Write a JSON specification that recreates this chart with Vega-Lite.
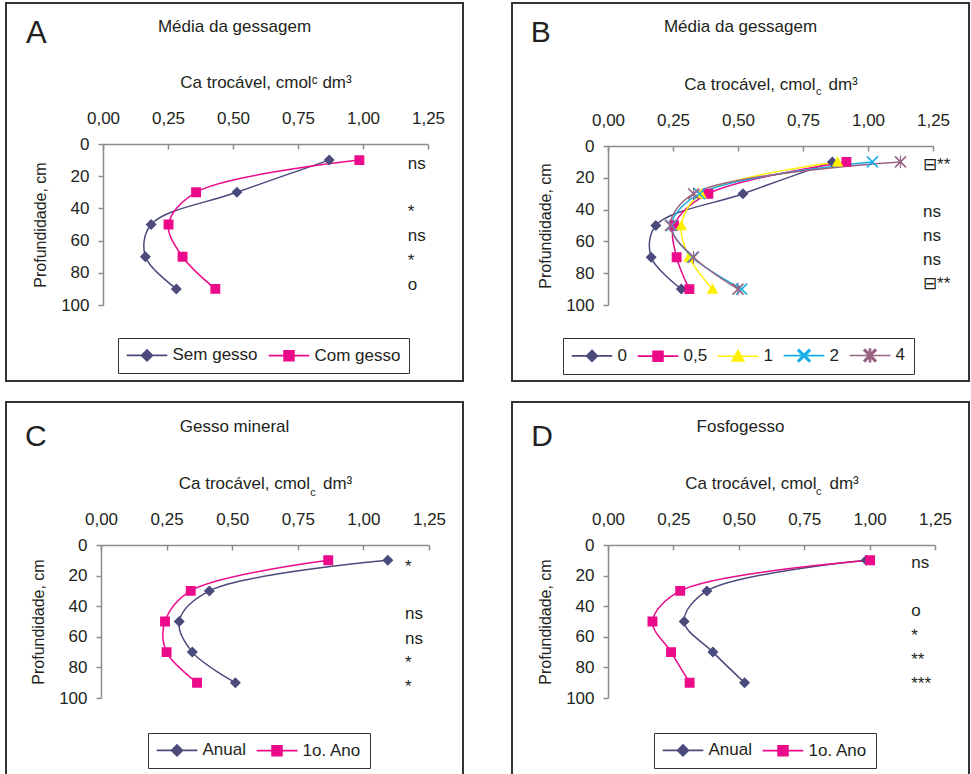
{
  "$schema": "https://vega.github.io/schema/vega-lite/v6.json",
  "padding": {"left": 5, "top": 2, "right": 0, "bottom": 0},
  "autosize": {"type": "pad"},
  "background": "white",
  "config": {
    "font": "Liberation Sans",
    "view": {"stroke": "#333333", "strokeWidth": 2},
    "axis": {"grid": false, "domainColor": "#8c8c8c", "domainWidth": 1.5, "tickColor": "#8c8c8c", "tickWidth": 1.5, "labelFont": "Liberation Sans", "labelFontSize": 17, "labelColor": "#231f20", "titleFont": "Liberation Sans", "titleFontSize": 17, "titleFontWeight": "normal", "titleColor": "#231f20", "labelFlush": false, "labelOverlap": false},
    "legend": {"orient": "none", "direction": "horizontal", "strokeColor": "#333333", "padding": 8.5, "labelFont": "Liberation Sans", "labelFontSize": 17, "labelColor": "#231f20", "symbolSize": 121, "symbolOffset": 12, "labelOffset": 17, "columnPadding": 6, "symbolStrokeWidth": 1.6},
    "title": {"font": "Liberation Sans", "fontSize": 17, "fontWeight": "normal", "color": "#231f20", "anchor": "middle", "frame": "group", "baseline": "alphabetic"}
  },
  "datasets": {
    "dadosA": [
      {"serie": "Sem gesso", "prof": 10, "ca": 0.87}, {"serie": "Sem gesso", "prof": 30, "ca": 0.515}, {"serie": "Sem gesso", "prof": 50, "ca": 0.185}, {"serie": "Sem gesso", "prof": 70, "ca": 0.163}, {"serie": "Sem gesso", "prof": 90, "ca": 0.282},
      {"serie": "Com gesso", "prof": 10, "ca": 0.986}, {"serie": "Com gesso", "prof": 30, "ca": 0.358}, {"serie": "Com gesso", "prof": 50, "ca": 0.252}, {"serie": "Com gesso", "prof": 70, "ca": 0.306}, {"serie": "Com gesso", "prof": 90, "ca": 0.432}
    ],
    "dadosB": [
      {"serie": "0", "prof": 10, "ca": 0.863}, {"serie": "0", "prof": 30, "ca": 0.519}, {"serie": "0", "prof": 50, "ca": 0.184}, {"serie": "0", "prof": 70, "ca": 0.166}, {"serie": "0", "prof": 90, "ca": 0.282},
      {"serie": "0,5", "prof": 10, "ca": 0.917}, {"serie": "0,5", "prof": 30, "ca": 0.386}, {"serie": "0,5", "prof": 50, "ca": 0.254}, {"serie": "0,5", "prof": 70, "ca": 0.264}, {"serie": "0,5", "prof": 90, "ca": 0.313},
      {"serie": "1", "prof": 10, "ca": 0.883}, {"serie": "1", "prof": 30, "ca": 0.358}, {"serie": "1", "prof": 50, "ca": 0.282}, {"serie": "1", "prof": 70, "ca": 0.312}, {"serie": "1", "prof": 90, "ca": 0.402},
      {"serie": "2", "prof": 10, "ca": 1.017}, {"serie": "2", "prof": 30, "ca": 0.352}, {"serie": "2", "prof": 50, "ca": 0.244}, {"serie": "2", "prof": 70, "ca": 0.326}, {"serie": "2", "prof": 90, "ca": 0.514},
      {"serie": "4", "prof": 10, "ca": 1.125}, {"serie": "4", "prof": 30, "ca": 0.329}, {"serie": "4", "prof": 50, "ca": 0.24}, {"serie": "4", "prof": 70, "ca": 0.329}, {"serie": "4", "prof": 90, "ca": 0.5}
    ],
    "dadosC": [
      {"serie": "Anual", "prof": 10, "ca": 1.093}, {"serie": "Anual", "prof": 30, "ca": 0.413}, {"serie": "Anual", "prof": 50, "ca": 0.298}, {"serie": "Anual", "prof": 70, "ca": 0.348}, {"serie": "Anual", "prof": 90, "ca": 0.512},
      {"serie": "1o. Ano", "prof": 10, "ca": 0.866}, {"serie": "1o. Ano", "prof": 30, "ca": 0.342}, {"serie": "1o. Ano", "prof": 50, "ca": 0.244}, {"serie": "1o. Ano", "prof": 70, "ca": 0.25}, {"serie": "1o. Ano", "prof": 90, "ca": 0.366}
    ],
    "dadosD": [
      {"serie": "Anual", "prof": 10, "ca": 0.987}, {"serie": "Anual", "prof": 30, "ca": 0.378}, {"serie": "Anual", "prof": 50, "ca": 0.291}, {"serie": "Anual", "prof": 70, "ca": 0.401}, {"serie": "Anual", "prof": 90, "ca": 0.522},
      {"serie": "1o. Ano", "prof": 10, "ca": 1.002}, {"serie": "1o. Ano", "prof": 30, "ca": 0.276}, {"serie": "1o. Ano", "prof": 50, "ca": 0.17}, {"serie": "1o. Ano", "prof": 70, "ca": 0.241}, {"serie": "1o. Ano", "prof": 90, "ca": 0.312}
    ],
    "notasA": [{"texto": "ns", "prof": 15.7}, {"texto": "*", "prof": 45.6}, {"texto": "ns", "prof": 60.2}, {"texto": "*", "prof": 75.6}, {"texto": "o", "prof": 90.9}],
    "notasB": [{"texto": "⊟**", "prof": 15.3}, {"texto": "ns", "prof": 44.7}, {"texto": "ns", "prof": 59.7}, {"texto": "ns", "prof": 75}, {"texto": "⊟**", "prof": 90.1}],
    "notasC": [{"texto": "*", "prof": 17.5}, {"texto": "ns", "prof": 48.3}, {"texto": "ns", "prof": 64.6}, {"texto": "*", "prof": 80.6}, {"texto": "*", "prof": 95.8}],
    "notasD": [{"texto": "ns", "prof": 15}, {"texto": "o", "prof": 46.1}, {"texto": "*", "prof": 62.8}, {"texto": "**", "prof": 78.4}, {"texto": "***", "prof": 94.3}]
  },
  "columns": 2,
  "spacing": {"row": 19, "column": 47},
  "resolve": {"scale": {"color": "independent", "stroke": "independent", "shape": "independent"}},
  "concat": [
    {
      "width": 457, "height": 378,
      "title": {"text": "Média da gessagem", "offset": -33},
      "layer": [
        {"data": {"name": "dadosA"}, "mark": {"type": "line", "interpolate": "catmull-rom", "strokeWidth": 1.5},
         "encoding": {
           "x": {"field": "ca", "type": "quantitative", "scale": {"domain": [0, 1.25], "range": [97, 422], "nice": false, "zero": false},
                 "axis": {"orient": "top", "offset": -141, "values": [0, 0.25, 0.5, 0.75, 1, 1.25], "labelExpr": "replace(format(datum.value, '.2f'), '.', ',')", "tickSize": -5, "labelPadding": 26, "labelBaseline": "alphabetic", "title": "Ca trocável, cmolᶜ dm³", "titlePadding": 18}},
           "y": {"field": "prof", "type": "quantitative", "scale": {"domain": [0, 100], "range": [141, 302], "nice": false, "zero": false},
                 "axis": {"orient": "left", "offset": -97, "values": [0, 20, 40, 60, 80, 100], "tickSize": 5, "labelPadding": 9, "title": "Profundidade, cm", "titleFontSize": 16, "titlePadding": 12}},
           "color": {"field": "serie", "type": "nominal", "scale": {"domain": ["Sem gesso", "Com gesso"], "range": ["#4a4a7d", "#eb0a8a"]}},
           "order": {"field": "prof", "type": "quantitative"}
         }},
        {"data": {"name": "dadosA"}, "mark": {"type": "point", "filled": true, "size": 121, "opacity": 1, "strokeWidth": 0},
         "encoding": {
           "x": {"field": "ca", "type": "quantitative"},
           "y": {"field": "prof", "type": "quantitative"},
           "color": {"field": "serie", "type": "nominal", "legend": {"title": null, "legendX": 112, "legendY": 335, "columns": 2, "encode": {"symbols": {"update": {"strokeWidth": {"value": 1.6}, "strokeOpacity": {"value": 1}}}}}},
           "stroke": {"field": "serie", "type": "nominal", "scale": {"domain": ["Sem gesso", "Com gesso"], "range": ["#4a4a7d", "#eb0a8a"]}, "legend": {"title": null}},
           "shape": {"field": "serie", "type": "nominal", "scale": {"domain": ["Sem gesso", "Com gesso"], "range": ["M-3.7,0H3.7M0,-1L1,0L0,1L-1,0Z", "M-3.7,0H3.7M-0.9,-0.9H0.9V0.9H-0.9Z"]}, "legend": {"title": null}}
         }},
        {"data": {"name": "notasA"}, "mark": {"type": "text", "align": "left", "baseline": "alphabetic", "fontSize": 17, "color": "#231f20"},
         "encoding": {"x": {"datum": 1.172}, "y": {"field": "prof", "type": "quantitative"}, "text": {"field": "texto"}}},
        {"data": {"values": [{"rotulo": "A"}]}, "mark": {"type": "text", "align": "left", "baseline": "alphabetic", "fontSize": 31, "color": "#231f20"},
         "encoding": {"x": {"datum": -0.296}, "y": {"datum": -63}, "text": {"field": "rotulo"}}}
      ]
    },
    {
      "width": 457, "height": 378,
      "title": {"text": "Média da gessagem", "offset": -33},
      "layer": [
        {"data": {"name": "dadosB"}, "mark": {"type": "line", "interpolate": "catmull-rom", "strokeWidth": 1.5},
         "encoding": {
           "x": {"field": "ca", "type": "quantitative", "scale": {"domain": [0, 1.25], "range": [96, 421], "nice": false, "zero": false},
                 "axis": {"orient": "top", "offset": -143, "values": [0, 0.25, 0.5, 0.75, 1, 1.25], "labelExpr": "replace(format(datum.value, '.2f'), '.', ',')", "tickSize": -5, "labelPadding": 26, "labelBaseline": "alphabetic", "title": "Ca trocável, cmol\u00a0\u2009\u00a0dm³", "titlePadding": 18}},
           "y": {"field": "prof", "type": "quantitative", "scale": {"domain": [0, 100], "range": [143, 302], "nice": false, "zero": false},
                 "axis": {"orient": "left", "offset": -96, "values": [0, 20, 40, 60, 80, 100], "tickSize": 5, "labelPadding": 9, "title": "Profundidade, cm", "titleFontSize": 16, "titlePadding": 12}},
           "color": {"field": "serie", "type": "nominal", "scale": {"domain": ["0", "0,5", "1", "2", "4"], "range": ["#4a4a7d", "#eb0a8a", "#fff000", "#1aaee8", "#9a6384"]}},
           "order": {"field": "prof", "type": "quantitative"}
         }},
        {"data": {"name": "dadosB"}, "mark": {"type": "point", "filled": true, "size": 121, "opacity": 1, "strokeWidth": 0},
         "encoding": {
           "x": {"field": "ca", "type": "quantitative"},
           "y": {"field": "prof", "type": "quantitative"},
           "color": {"field": "serie", "type": "nominal", "legend": {"title": null, "legendX": 51, "legendY": 335, "columns": 5, "encode": {"symbols": {"update": {"strokeWidth": {"value": 1.6}, "strokeOpacity": {"value": 1}}}}}},
           "stroke": {"field": "serie", "type": "nominal", "scale": {"domain": ["0", "0,5", "1", "2", "4"], "range": ["#4a4a7d", "#eb0a8a", "#fff000", "#1aaee8", "#9a6384"]}, "legend": {"title": null}},
           "shape": {"field": "serie", "type": "nominal", "scale": {"domain": ["0", "0,5", "1", "2", "4"], "range": ["M-3.7,0H3.7M0,-1L1,0L0,1L-1,0Z", "M-3.7,0H3.7M-0.9,-0.9H0.9V0.9H-0.9Z", "M-3.7,0H3.7M0,-1.05L1.05,0.85L-1.05,0.85Z", "M-3.7,0H3.7M-0.9,-1.1L1.1,0.9L0.9,1.1L-1.1,-0.9ZM0.9,-1.1L1.1,-0.9L-0.9,1.1L-1.1,0.9Z", "M-3.7,0H3.7M-0.9,-1.1L1.1,0.9L0.9,1.1L-1.1,-0.9ZM0.9,-1.1L1.1,-0.9L-0.9,1.1L-1.1,0.9ZM-0.1,-1.15H0.1V1.15H-0.1Z"]}, "legend": {"title": null}}
         }},
        {"data": {"name": "notasB"}, "mark": {"type": "text", "align": "left", "baseline": "alphabetic", "fontSize": 17, "color": "#231f20"},
         "encoding": {"x": {"datum": 1.212}, "y": {"field": "prof", "type": "quantitative"}, "text": {"field": "texto"}}},
        {"data": {"values": [{"rotulo": "B"}]}, "mark": {"type": "text", "align": "left", "baseline": "alphabetic", "fontSize": 30, "color": "#231f20"},
         "encoding": {"x": {"datum": -0.297}, "y": {"datum": -65.6}, "text": {"field": "rotulo"}}},
        {"data": {"values": [{"sub": "c"}]}, "mark": {"type": "text", "align": "left", "baseline": "alphabetic", "fontSize": 11, "color": "#231f20"},
         "encoding": {"x": {"datum": 0.8}, "y": {"datum": -32}, "text": {"field": "sub"}}}
      ]
    },
    {
      "width": 457, "height": 378,
      "title": {"text": "Gesso mineral", "offset": -34},
      "layer": [
        {"data": {"name": "dadosC"}, "mark": {"type": "line", "interpolate": "catmull-rom", "strokeWidth": 1.5},
         "encoding": {
           "x": {"field": "ca", "type": "quantitative", "scale": {"domain": [0, 1.25], "range": [95, 423], "nice": false, "zero": false},
                 "axis": {"orient": "top", "offset": -143, "values": [0, 0.25, 0.5, 0.75, 1, 1.25], "labelExpr": "replace(format(datum.value, '.2f'), '.', ',')", "tickSize": -5, "labelPadding": 26, "labelBaseline": "alphabetic", "title": "Ca trocável, cmol\u00a0\u2009\u00a0dm³", "titlePadding": 18}},
           "y": {"field": "prof", "type": "quantitative", "scale": {"domain": [0, 100], "range": [143, 296], "nice": false, "zero": false},
                 "axis": {"orient": "left", "offset": -95, "values": [0, 20, 40, 60, 80, 100], "tickSize": 5, "labelPadding": 9, "title": "Profundidade, cm", "titleFontSize": 16, "titlePadding": 12}},
           "color": {"field": "serie", "type": "nominal", "scale": {"domain": ["Anual", "1o. Ano"], "range": ["#4a4a7d", "#eb0a8a"]}},
           "order": {"field": "prof", "type": "quantitative"}
         }},
        {"data": {"name": "dadosC"}, "mark": {"type": "point", "filled": true, "size": 121, "opacity": 1, "strokeWidth": 0},
         "encoding": {
           "x": {"field": "ca", "type": "quantitative"},
           "y": {"field": "prof", "type": "quantitative"},
           "color": {"field": "serie", "type": "nominal", "legend": {"title": null, "legendX": 142, "legendY": 331, "columns": 2, "encode": {"symbols": {"update": {"strokeWidth": {"value": 1.6}, "strokeOpacity": {"value": 1}}}}}},
           "stroke": {"field": "serie", "type": "nominal", "scale": {"domain": ["Anual", "1o. Ano"], "range": ["#4a4a7d", "#eb0a8a"]}, "legend": {"title": null}},
           "shape": {"field": "serie", "type": "nominal", "scale": {"domain": ["Anual", "1o. Ano"], "range": ["M-3.7,0H3.7M0,-1L1,0L0,1L-1,0Z", "M-3.7,0H3.7M-0.9,-0.9H0.9V0.9H-0.9Z"]}, "legend": {"title": null}}
         }},
        {"data": {"name": "notasC"}, "mark": {"type": "text", "align": "left", "baseline": "alphabetic", "fontSize": 17, "color": "#231f20"},
         "encoding": {"x": {"datum": 1.159}, "y": {"field": "prof", "type": "quantitative"}, "text": {"field": "texto"}}},
        {"data": {"values": [{"rotulo": "C"}]}, "mark": {"type": "text", "align": "left", "baseline": "alphabetic", "fontSize": 30, "color": "#231f20"},
         "encoding": {"x": {"datum": -0.29}, "y": {"datum": -64.8}, "text": {"field": "rotulo"}}},
        {"data": {"values": [{"sub": "c"}]}, "mark": {"type": "text", "align": "left", "baseline": "alphabetic", "fontSize": 11, "color": "#231f20"},
         "encoding": {"x": {"datum": 0.797}, "y": {"datum": -32.2}, "text": {"field": "sub"}}}
      ]
    },
    {
      "width": 457, "height": 378,
      "title": {"text": "Fosfogesso", "offset": -34},
      "layer": [
        {"data": {"name": "dadosD"}, "mark": {"type": "line", "interpolate": "catmull-rom", "strokeWidth": 1.5},
         "encoding": {
           "x": {"field": "ca", "type": "quantitative", "scale": {"domain": [0, 1.25], "range": [96, 423], "nice": false, "zero": false},
                 "axis": {"orient": "top", "offset": -143, "values": [0, 0.25, 0.5, 0.75, 1, 1.25], "labelExpr": "replace(format(datum.value, '.2f'), '.', ',')", "tickSize": -5, "labelPadding": 26, "labelBaseline": "alphabetic", "title": "Ca trocável, cmol\u00a0\u2009\u00a0dm³", "titlePadding": 18}},
           "y": {"field": "prof", "type": "quantitative", "scale": {"domain": [0, 100], "range": [143, 296], "nice": false, "zero": false},
                 "axis": {"orient": "left", "offset": -96, "values": [0, 20, 40, 60, 80, 100], "tickSize": 5, "labelPadding": 9, "title": "Profundidade, cm", "titleFontSize": 16, "titlePadding": 12}},
           "color": {"field": "serie", "type": "nominal", "scale": {"domain": ["Anual", "1o. Ano"], "range": ["#4a4a7d", "#eb0a8a"]}},
           "order": {"field": "prof", "type": "quantitative"}
         }},
        {"data": {"name": "dadosD"}, "mark": {"type": "point", "filled": true, "size": 121, "opacity": 1, "strokeWidth": 0},
         "encoding": {
           "x": {"field": "ca", "type": "quantitative"},
           "y": {"field": "prof", "type": "quantitative"},
           "color": {"field": "serie", "type": "nominal", "legend": {"title": null, "legendX": 142, "legendY": 331, "columns": 2, "encode": {"symbols": {"update": {"strokeWidth": {"value": 1.6}, "strokeOpacity": {"value": 1}}}}}},
           "stroke": {"field": "serie", "type": "nominal", "scale": {"domain": ["Anual", "1o. Ano"], "range": ["#4a4a7d", "#eb0a8a"]}, "legend": {"title": null}},
           "shape": {"field": "serie", "type": "nominal", "scale": {"domain": ["Anual", "1o. Ano"], "range": ["M-3.7,0H3.7M0,-1L1,0L0,1L-1,0Z", "M-3.7,0H3.7M-0.9,-0.9H0.9V0.9H-0.9Z"]}, "legend": {"title": null}}
         }},
        {"data": {"name": "notasD"}, "mark": {"type": "text", "align": "left", "baseline": "alphabetic", "fontSize": 17, "color": "#231f20"},
         "encoding": {"x": {"datum": 1.159}, "y": {"field": "prof", "type": "quantitative"}, "text": {"field": "texto"}}},
        {"data": {"values": [{"rotulo": "D"}]}, "mark": {"type": "text", "align": "left", "baseline": "alphabetic", "fontSize": 30, "color": "#231f20"},
         "encoding": {"x": {"datum": -0.293}, "y": {"datum": -64.8}, "text": {"field": "rotulo"}}},
        {"data": {"values": [{"sub": "c"}]}, "mark": {"type": "text", "align": "left", "baseline": "alphabetic", "fontSize": 11, "color": "#231f20"},
         "encoding": {"x": {"datum": 0.795}, "y": {"datum": -32.6}, "text": {"field": "sub"}}}
      ]
    }
  ]
}
